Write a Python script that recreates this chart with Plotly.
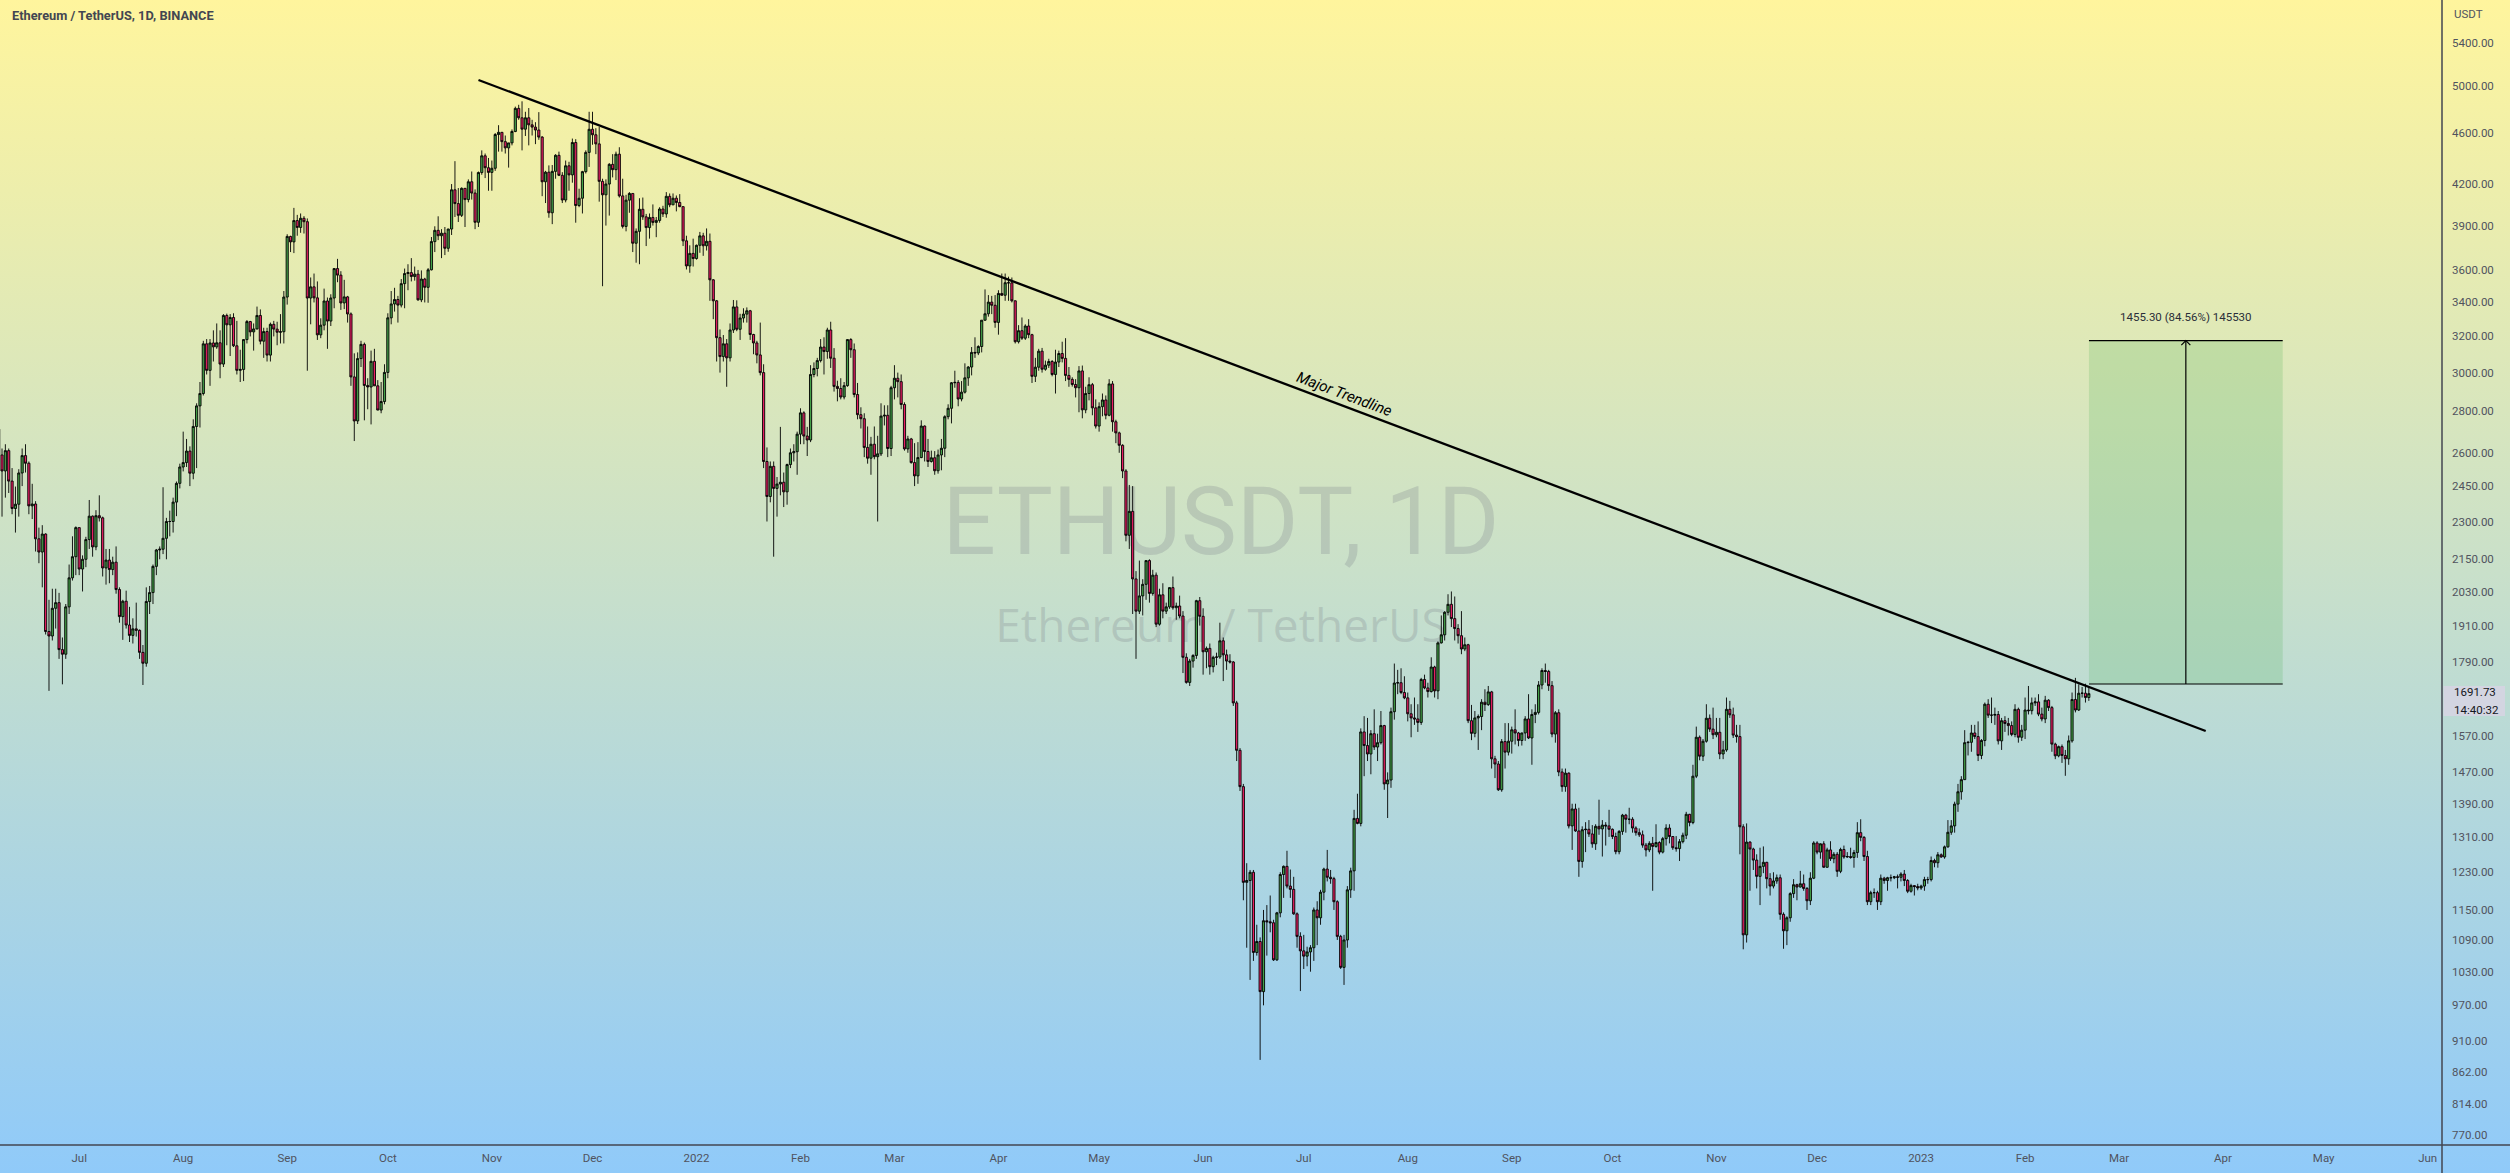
import math
import base64
import pandas as pd
import plotly.graph_objects as go

# ---------------- DATA (ETHUSDT daily) ----------------
START_DATE = "2021-06-07"
FIRST_OPEN = 2712

jun21_c = [2590, 2517, 2610, 2472, 2354, 2372, 2508, 2587, 2552, 2365, 2373, 2230, 2178, 2249, 1890, 1875, 1970, 1990, 1830, 1815, 1975, 2080, 2160, 2275]
jun21_h = [2845, 2620, 2640, 2620, 2530, 2448, 2525, 2620, 2640, 2560, 2460, 2385, 2275, 2285, 2252, 2000, 2040, 2040, 2025, 1870, 1985, 2130, 2240, 2280]
jun21_l = [2580, 2320, 2400, 2420, 2330, 2255, 2320, 2450, 2510, 2330, 2310, 2180, 2135, 2045, 1880, 1700, 1860, 1900, 1800, 1720, 1800, 1950, 2070, 2090]

jul21_c = [2113, 2150, 2227, 2322, 2198, 2324, 2315, 2117, 2147, 2111, 2139, 2037, 1941, 1995, 1912, 1877, 1899, 1894, 1821, 1786, 1994, 2026, 2123, 2186, 2189, 2232, 2300, 2300, 2381, 2462, 2535]
jul21_h = [2275, 2165, 2238, 2390, 2325, 2347, 2410, 2320, 2190, 2190, 2160, 2200, 2045, 2000, 2033, 1975, 1935, 1990, 1897, 1845, 2045, 2050, 2130, 2190, 2200, 2445, 2315, 2345, 2400, 2470, 2550]
jul21_l = [2090, 2030, 2120, 2190, 2160, 2185, 2300, 2085, 2055, 2060, 2090, 2022, 1920, 1862, 1900, 1855, 1850, 1873, 1800, 1718, 1775, 1950, 1985, 2090, 2150, 2170, 2150, 2240, 2255, 2322, 2440]

aug21_c = [2555, 2608, 2507, 2725, 2827, 2890, 3158, 3012, 3163, 3141, 3164, 3046, 3322, 3267, 3310, 3147, 3012, 3017, 3182, 3286, 3226, 3243, 3322, 3173, 3228, 3095, 3270, 3242, 3224, 3227, 3433]
aug21_h = [2700, 2665, 2630, 2760, 2840, 2950, 3175, 3185, 3185, 3235, 3275, 3235, 3330, 3333, 3330, 3335, 3290, 3125, 3185, 3295, 3290, 3275, 3375, 3358, 3250, 3250, 3280, 3290, 3285, 3330, 3470]
aug21_l = [2515, 2535, 2450, 2480, 2530, 2720, 2880, 2990, 2930, 3060, 3130, 2970, 3030, 3150, 3090, 3140, 2990, 2950, 2955, 3160, 3200, 3120, 3240, 3155, 3080, 3060, 3060, 3200, 3150, 3160, 3160]

sep21_c = [3825, 3788, 3935, 3887, 3951, 3927, 3427, 3496, 3428, 3209, 3265, 3409, 3289, 3427, 3612, 3570, 3397, 3434, 3331, 2977, 2752, 3076, 3155, 2932, 2924, 3061, 2930, 2806, 2849, 3001]
sep21_h = [3840, 3830, 4025, 3975, 3985, 3966, 3950, 3555, 3580, 3530, 3305, 3485, 3430, 3450, 3615, 3675, 3595, 3540, 3440, 3340, 3105, 3110, 3175, 3165, 2970, 3120, 3130, 2960, 2950, 3045]
sep21_l = [3387, 3720, 3713, 3830, 3850, 3845, 3010, 3270, 3400, 3180, 3190, 3235, 3130, 3260, 3365, 3525, 3355, 3360, 3280, 2930, 2655, 2737, 3030, 2755, 2810, 2735, 2930, 2805, 2790, 2835]

oct21_c = [3308, 3391, 3418, 3384, 3516, 3580, 3586, 3561, 3576, 3416, 3545, 3493, 3604, 3790, 3867, 3830, 3847, 3745, 3876, 4157, 4056, 3972, 4168, 4085, 4217, 4133, 3923, 4287, 4417, 4324, 4288]
oct21_h = [3335, 3470, 3490, 3440, 3545, 3612, 3640, 3680, 3625, 3603, 3600, 3553, 3615, 3821, 3895, 3965, 3875, 3890, 3878, 4200, 4375, 4170, 4175, 4170, 4235, 4295, 4160, 4295, 4460, 4435, 4400]
oct21_l = [2970, 3270, 3345, 3280, 3370, 3365, 3475, 3530, 3535, 3410, 3402, 3400, 3398, 3600, 3720, 3800, 3680, 3700, 3722, 3835, 3960, 3925, 3960, 3890, 4065, 4085, 3875, 3890, 4270, 4245, 4150]

nov21_c = [4320, 4588, 4606, 4530, 4480, 4520, 4613, 4807, 4727, 4632, 4727, 4668, 4649, 4625, 4567, 4217, 4290, 3990, 4296, 4421, 4266, 4082, 4339, 4269, 4523, 4042, 4095, 4294, 4444, 4631]
nov21_h = [4380, 4600, 4665, 4609, 4580, 4520, 4630, 4822, 4838, 4868, 4778, 4810, 4710, 4690, 4775, 4575, 4300, 4342, 4345, 4430, 4450, 4290, 4380, 4370, 4555, 4550, 4165, 4300, 4460, 4778]
nov21_l = [4150, 4300, 4450, 4450, 4435, 4325, 4500, 4607, 4710, 4460, 4576, 4500, 4580, 4510, 4545, 4110, 4060, 3955, 3910, 4240, 4260, 4060, 4065, 4150, 4210, 3920, 4030, 3985, 4280, 4330]

dec21_c = [4586, 4512, 4220, 4120, 4200, 4350, 4309, 4430, 4112, 3894, 4081, 4130, 3779, 3860, 4015, 3961, 3886, 3957, 3922, 3936, 4017, 3982, 4109, 4047, 4095, 4064, 4034, 3795, 3629, 3711, 3677]
dec21_h = [4778, 4640, 4650, 4240, 4235, 4360, 4430, 4450, 4485, 4240, 4120, 4140, 4131, 3880, 4095, 4100, 3982, 3985, 4050, 3960, 4030, 4040, 4140, 4130, 4130, 4115, 4125, 4035, 3830, 3765, 3810]
dec21_l = [4505, 4430, 4070, 3500, 3900, 3970, 4250, 4230, 4100, 3880, 3860, 3990, 3720, 3650, 3640, 3940, 3760, 3810, 3900, 3820, 3920, 3960, 3955, 4030, 4045, 4000, 4030, 3760, 3606, 3585, 3625]

jan22_c = [3765, 3829, 3762, 3792, 3540, 3410, 3193, 3087, 3158, 3080, 3237, 3373, 3241, 3307, 3330, 3350, 3211, 3163, 3096, 3000, 2560, 2405, 2538, 2440, 2459, 2467, 2425, 2546, 2600, 2605, 2688]
jan22_h = [3770, 3856, 3850, 3880, 3845, 3545, 3415, 3240, 3208, 3185, 3275, 3415, 3413, 3332, 3365, 3370, 3355, 3215, 3175, 3280, 3045, 2625, 2560, 2560, 2490, 2723, 2510, 2550, 2620, 2640, 2700]
jan22_l = [3670, 3715, 3695, 3730, 3410, 3300, 3060, 3000, 3060, 2925, 3060, 3220, 3230, 3180, 3280, 3280, 3180, 3100, 3050, 2985, 2530, 2300, 2380, 2160, 2320, 2410, 2360, 2370, 2530, 2560, 2500]

feb22_c = [2792, 2679, 2660, 2990, 3022, 3065, 3140, 3115, 3237, 3078, 2927, 2916, 2872, 2931, 3182, 3125, 2885, 2783, 2763, 2625, 2575, 2640, 2582, 2595, 2776, 2780, 2620, 2920]
feb22_h = [2815, 2800, 2723, 3040, 3055, 3080, 3185, 3195, 3250, 3285, 3134, 2957, 2970, 2950, 3185, 3190, 3160, 2945, 2820, 2790, 2725, 2675, 2725, 2680, 2840, 2830, 2830, 2930]
feb22_l = [2640, 2640, 2585, 2650, 2975, 2980, 3055, 2990, 3075, 3025, 2900, 2850, 2860, 2860, 2925, 3080, 2870, 2760, 2715, 2580, 2550, 2500, 2570, 2300, 2585, 2730, 2580, 2585]

mar22_c = [2970, 2952, 2834, 2618, 2665, 2555, 2495, 2578, 2727, 2606, 2560, 2577, 2518, 2590, 2621, 2773, 2815, 2946, 2948, 2862, 2897, 2972, 3030, 3110, 3107, 3143, 3294, 3332, 3402, 3383, 3281]
mar22_h = [3040, 3000, 2990, 2845, 2680, 2670, 2645, 2650, 2755, 2730, 2665, 2610, 2608, 2615, 2665, 2780, 2835, 2950, 3010, 2960, 2955, 3050, 3035, 3140, 3195, 3150, 3295, 3480, 3445, 3440, 3445]
mar22_l = [2860, 2870, 2810, 2610, 2600, 2550, 2450, 2460, 2575, 2560, 2535, 2555, 2500, 2505, 2520, 2580, 2760, 2740, 2920, 2825, 2850, 2890, 2930, 2985, 3080, 3095, 3110, 3290, 3315, 3330, 3250]

apr22_c = [3455, 3444, 3522, 3521, 3410, 3170, 3233, 3190, 3260, 3210, 2980, 3029, 3117, 3018, 3040, 3060, 2990, 3057, 3104, 3077, 2985, 2964, 2937, 2920, 3009, 2807, 2890, 2936, 2817, 2727]
apr22_h = [3475, 3580, 3580, 3560, 3555, 3412, 3265, 3310, 3270, 3300, 3215, 3080, 3130, 3135, 3065, 3075, 3068, 3125, 3120, 3170, 3190, 3030, 2975, 2965, 3035, 3038, 2925, 2975, 2945, 2860]
apr22_l = [3210, 3440, 3410, 3410, 3400, 3160, 3160, 3180, 3180, 3190, 2945, 2950, 3010, 3000, 3010, 3025, 2980, 2890, 3030, 3055, 2955, 2925, 2926, 2870, 2795, 2765, 2790, 2855, 2780, 2715]

may22_c = [2823, 2857, 2780, 2940, 2748, 2694, 2635, 2517, 2244, 2342, 2076, 1960, 2014, 2056, 2145, 2023, 2090, 1915, 2018, 1960, 1975, 2044, 1972, 1978, 1943, 1805, 1726, 1793, 1811, 1997, 1942]
may22_h = [2845, 2890, 2880, 2965, 2955, 2758, 2700, 2640, 2525, 2455, 2450, 2105, 2145, 2075, 2145, 2150, 2110, 2100, 2040, 2060, 1990, 2045, 2085, 1990, 2015, 1960, 1818, 1800, 1815, 2000, 2010]
may22_l = [2700, 2775, 2760, 2775, 2700, 2645, 2600, 2485, 2220, 2190, 1950, 1800, 1950, 1945, 2000, 1990, 2015, 1905, 1910, 1935, 1950, 1968, 1965, 1930, 1935, 1755, 1722, 1715, 1772, 1800, 1910]

jun22_c = [1823, 1834, 1775, 1805, 1806, 1859, 1813, 1793, 1790, 1664, 1529, 1433, 1208, 1212, 1230, 1066, 1087, 994, 1128, 1126, 1124, 1052, 1144, 1225, 1243, 1200, 1193, 1142, 1097, 1069]
jun22_h = [1970, 1840, 1850, 1810, 1820, 1920, 1870, 1830, 1815, 1793, 1670, 1535, 1440, 1250, 1235, 1235, 1120, 1095, 1150, 1160, 1180, 1130, 1146, 1230, 1245, 1278, 1236, 1220, 1145, 1105]
jun22_l = [1750, 1770, 1750, 1757, 1780, 1800, 1730, 1765, 1785, 1655, 1500, 1422, 1170, 1075, 1015, 1050, 1060, 880, 970, 1060, 1105, 1050, 1050, 1135, 1175, 1195, 1175, 1140, 1075, 995]

jul22_c = [1059, 1067, 1075, 1150, 1134, 1187, 1237, 1219, 1216, 1167, 1097, 1038, 1090, 1192, 1233, 1354, 1342, 1580, 1542, 1519, 1575, 1538, 1550, 1598, 1440, 1450, 1638, 1724, 1725, 1695, 1679]
jul22_h = [1100, 1077, 1080, 1155, 1168, 1192, 1240, 1280, 1235, 1220, 1170, 1100, 1100, 1200, 1240, 1375, 1415, 1590, 1625, 1620, 1585, 1645, 1575, 1640, 1600, 1470, 1650, 1785, 1765, 1770, 1745]
jul22_l = [1035, 1040, 1030, 1050, 1080, 1120, 1170, 1210, 1205, 1150, 1090, 1035, 1006, 1075, 1175, 1190, 1340, 1335, 1460, 1500, 1465, 1530, 1500, 1545, 1425, 1355, 1430, 1615, 1690, 1690, 1675]

aug22_c = [1632, 1620, 1617, 1607, 1735, 1709, 1698, 1774, 1700, 1852, 1879, 1956, 1984, 1934, 1900, 1876, 1832, 1846, 1612, 1576, 1620, 1624, 1666, 1659, 1697, 1506, 1492, 1425, 1553, 1524, 1554]
aug22_h = [1695, 1660, 1680, 1660, 1740, 1750, 1725, 1805, 1778, 1857, 1945, 1960, 2020, 2030, 2012, 1915, 1960, 1870, 1849, 1658, 1640, 1630, 1675, 1705, 1715, 1700, 1514, 1500, 1560, 1605, 1605]
aug22_l = [1610, 1565, 1600, 1580, 1600, 1705, 1680, 1695, 1680, 1675, 1850, 1860, 1945, 1905, 1860, 1850, 1815, 1825, 1605, 1557, 1565, 1530, 1585, 1640, 1655, 1480, 1455, 1422, 1420, 1480, 1515]

sep22_c = [1586, 1577, 1556, 1577, 1617, 1563, 1630, 1636, 1718, 1763, 1760, 1716, 1574, 1635, 1471, 1433, 1468, 1336, 1377, 1324, 1254, 1327, 1328, 1317, 1294, 1335, 1329, 1338, 1336, 1328]
sep22_h = [1595, 1645, 1580, 1578, 1625, 1690, 1645, 1660, 1730, 1770, 1785, 1765, 1730, 1640, 1645, 1480, 1480, 1470, 1390, 1390, 1380, 1335, 1345, 1350, 1338, 1340, 1400, 1350, 1345, 1375]
sep22_l = [1520, 1545, 1540, 1542, 1555, 1560, 1490, 1605, 1630, 1705, 1725, 1700, 1565, 1550, 1460, 1420, 1420, 1330, 1280, 1322, 1220, 1240, 1275, 1310, 1285, 1280, 1315, 1265, 1290, 1310]

oct22_c = [1311, 1276, 1323, 1362, 1352, 1352, 1331, 1320, 1315, 1291, 1280, 1295, 1288, 1297, 1275, 1306, 1331, 1311, 1285, 1283, 1299, 1314, 1364, 1344, 1460, 1565, 1513, 1554, 1619, 1588, 1572]
oct22_h = [1330, 1320, 1326, 1365, 1365, 1380, 1357, 1335, 1330, 1325, 1296, 1300, 1310, 1340, 1300, 1310, 1340, 1340, 1312, 1312, 1305, 1320, 1370, 1365, 1490, 1595, 1570, 1560, 1660, 1630, 1650]
oct22_l = [1305, 1270, 1270, 1315, 1320, 1340, 1320, 1313, 1310, 1285, 1265, 1275, 1190, 1285, 1270, 1272, 1290, 1295, 1280, 1276, 1255, 1295, 1305, 1335, 1340, 1455, 1502, 1500, 1550, 1580, 1560]

nov22_c = [1579, 1519, 1530, 1645, 1629, 1571, 1567, 1334, 1100, 1298, 1282, 1257, 1221, 1243, 1252, 1216, 1200, 1211, 1218, 1141, 1108, 1134, 1184, 1203, 1198, 1205, 1195, 1169, 1217, 1296]
nov22_h = [1620, 1620, 1555, 1680, 1670, 1650, 1600, 1600, 1340, 1342, 1300, 1285, 1270, 1285, 1288, 1253, 1228, 1230, 1225, 1225, 1145, 1137, 1187, 1215, 1205, 1233, 1225, 1198, 1230, 1300]
nov22_l = [1565, 1505, 1505, 1525, 1620, 1563, 1550, 1270, 1072, 1085, 1190, 1235, 1195, 1160, 1228, 1195, 1180, 1195, 1205, 1130, 1073, 1080, 1126, 1175, 1170, 1197, 1190, 1150, 1160, 1215]

dec22_c = [1275, 1294, 1241, 1280, 1260, 1270, 1232, 1281, 1264, 1265, 1263, 1274, 1320, 1309, 1265, 1167, 1186, 1186, 1167, 1217, 1212, 1218, 1218, 1220, 1219, 1226, 1212, 1189, 1201, 1199, 1196]
dec22_h = [1300, 1295, 1300, 1285, 1300, 1275, 1275, 1285, 1290, 1275, 1285, 1280, 1345, 1352, 1312, 1278, 1190, 1195, 1190, 1225, 1220, 1220, 1225, 1222, 1225, 1230, 1235, 1215, 1205, 1202, 1205]
dec22_l = [1270, 1260, 1240, 1240, 1255, 1250, 1220, 1228, 1260, 1262, 1260, 1240, 1262, 1300, 1255, 1160, 1160, 1175, 1150, 1160, 1205, 1190, 1210, 1215, 1195, 1210, 1200, 1185, 1186, 1180, 1191]

jan23_c = [1200, 1214, 1214, 1256, 1251, 1269, 1264, 1287, 1321, 1336, 1389, 1420, 1451, 1550, 1551, 1577, 1567, 1515, 1556, 1660, 1628, 1628, 1630, 1555, 1612, 1604, 1598, 1573, 1645, 1565, 1585]
jan23_h = [1203, 1220, 1220, 1265, 1260, 1275, 1272, 1290, 1350, 1350, 1395, 1440, 1460, 1585, 1555, 1600, 1600, 1610, 1560, 1665, 1675, 1680, 1650, 1640, 1620, 1625, 1620, 1610, 1660, 1650, 1600]
jan23_l = [1192, 1190, 1205, 1210, 1241, 1240, 1262, 1260, 1285, 1315, 1320, 1370, 1400, 1450, 1515, 1525, 1560, 1500, 1505, 1540, 1620, 1605, 1600, 1545, 1530, 1580, 1570, 1568, 1565, 1550, 1555]

feb23_c = [1643, 1641, 1664, 1667, 1631, 1617, 1672, 1650, 1546, 1514, 1539, 1515, 1506, 1555, 1674, 1643, 1693, 1693, 1680, 1691.73]
feb23_h = [1680, 1715, 1680, 1680, 1690, 1650, 1685, 1675, 1655, 1550, 1542, 1545, 1530, 1570, 1695, 1740, 1720, 1712, 1722, 1712]
feb23_l = [1560, 1630, 1630, 1655, 1625, 1610, 1605, 1640, 1525, 1505, 1510, 1495, 1461, 1490, 1550, 1636, 1640, 1680, 1665, 1670]

MONTHS = [
    ("jun21", jun21_c, jun21_h, jun21_l), ("jul21", jul21_c, jul21_h, jul21_l),
    ("aug21", aug21_c, aug21_h, aug21_l), ("sep21", sep21_c, sep21_h, sep21_l),
    ("oct21", oct21_c, oct21_h, oct21_l), ("nov21", nov21_c, nov21_h, nov21_l),
    ("dec21", dec21_c, dec21_h, dec21_l), ("jan22", jan22_c, jan22_h, jan22_l),
    ("feb22", feb22_c, feb22_h, feb22_l), ("mar22", mar22_c, mar22_h, mar22_l),
    ("apr22", apr22_c, apr22_h, apr22_l), ("may22", may22_c, may22_h, may22_l),
    ("jun22", jun22_c, jun22_h, jun22_l), ("jul22", jul22_c, jul22_h, jul22_l),
    ("aug22", aug22_c, aug22_h, aug22_l), ("sep22", sep22_c, sep22_h, sep22_l),
    ("oct22", oct22_c, oct22_h, oct22_l), ("nov22", nov22_c, nov22_h, nov22_l),
    ("dec22", dec22_c, dec22_h, dec22_l), ("jan23", jan23_c, jan23_h, jan23_l),
    ("feb23", feb23_c, feb23_h, feb23_l),
]

# Trendline anchor points and long-position tool
TREND_DATES = ["2021-10-28 00:30", "2023-03-26 20:00"]
TREND_PRICES = [5057, 1582.6]
BOX_START, BOX_END = "2023-02-20 01:00", "2023-04-18 19:00"
ENTRY_PRICE, TARGET_PRICE = 1721.0, 3176.3
BOX_LABEL = "1455.30 (84.56%) 145530"
LAST_PRICE_TEXT, COUNTDOWN_TEXT = "1691.73", "14:40:32"

Y_TICKS = [5400, 5000, 4600, 4200, 3900, 3600, 3400, 3200, 3000, 2800, 2600, 2450, 2300,
           2150, 2030, 1910, 1790, 1570, 1470, 1390, 1310, 1230, 1150, 1090, 1030, 970,
           910, 862, 814, 770]
X_TICK_START, X_TICK_END = "2021-07-01", "2023-06-01"

# ---------------- build series ----------------
close, high, low = [], [], []
for name, c, h, l in MONTHS:
    if not (len(c) == len(h) == len(l)):
        raise ValueError(f"length mismatch in {name}: {len(c)} {len(h)} {len(l)}")
    close += c
    high += h
    low += l
# Binance daily candles open at the previous close
opens = [FIRST_OPEN] + close[:-1]
high = [max(h, o, c) for h, o, c in zip(high, opens, close)]
low = [min(l, o, c) for l, o, c in zip(low, opens, close)]
dates = pd.date_range(START_DATE, periods=len(close), freq="D")

# ---------------- geometry calibration (pixels of the 2510x1173 canvas) ----------------
W, H = 2510, 1173
PLOT_R, PLOT_B = 2442, 1145
JAN22_PX, PX_PER_DAY = 696.5, 3.355
P_REF, Y_REF, PX_PER_LN = 5400.0, 43.2, 560.4
T0 = pd.Timestamp("2022-01-01")


def px_to_date(px):
    return T0 + pd.Timedelta(days=(px - JAN22_PX) / PX_PER_DAY)


def py_to_price(py):
    return P_REF * math.exp(-(py - Y_REF) / PX_PER_LN)


x_range = [px_to_date(0), px_to_date(PLOT_R)]
y_range = [math.log10(py_to_price(PLOT_B)), math.log10(py_to_price(0))]

FONT = "Roboto"
AXIS_TXT = "#50535E"

fig = go.Figure()

# watermark (base subplot, below the candles)
WM = "rgba(120,123,134,0.25)"
fig.add_trace(go.Scatter(x=[0.5], y=[1 - 530 / PLOT_B], mode="text", text=["ETHUSDT, 1D"],
                         textfont=dict(family=FONT, size=94, color=WM), hoverinfo="skip",
                         xaxis="x", yaxis="y", showlegend=False))
fig.add_trace(go.Scatter(x=[0.5], y=[1 - 630 / PLOT_B], mode="text", text=["Ethereum / TetherUS"],
                         textfont=dict(family="Open Sans", size=46, color=WM), hoverinfo="skip",
                         xaxis="x", yaxis="y", showlegend=False))

# candles
fig.add_trace(go.Candlestick(
    x=dates, open=opens, high=high, low=low, close=close,
    xaxis="x2", yaxis="y2", whiskerwidth=0, hoverinfo="skip", showlegend=False,
    increasing=dict(line=dict(color="#000000", width=0.9), fillcolor="#43A047"),
    decreasing=dict(line=dict(color="#000000", width=0.9), fillcolor="#E91E63"),
))

# long position box
b0, b1 = pd.Timestamp(BOX_START), pd.Timestamp(BOX_END)
bm = b0 + (b1 - b0) / 2
fig.add_trace(go.Scatter(x=[b0, b1, b1, b0, b0],
                         y=[ENTRY_PRICE, ENTRY_PRICE, TARGET_PRICE, TARGET_PRICE, ENTRY_PRICE],
                         fill="toself", fillcolor="rgba(76,175,80,0.2)", mode="lines",
                         line=dict(width=0), hoverinfo="skip", xaxis="x2", yaxis="y2", showlegend=False))
for p in (ENTRY_PRICE, TARGET_PRICE):
    fig.add_trace(go.Scatter(x=[b0, b1], y=[p, p], mode="lines", line=dict(color="#000", width=1.2),
                             hoverinfo="skip", xaxis="x2", yaxis="y2", showlegend=False))
fig.add_trace(go.Scatter(x=[bm, bm], y=[ENTRY_PRICE, TARGET_PRICE], mode="lines",
                         line=dict(color="#000", width=1.2), hoverinfo="skip",
                         xaxis="x2", yaxis="y2", showlegend=False))
dd = pd.Timedelta(days=4.5 / PX_PER_DAY)
yy = TARGET_PRICE * math.exp(-4.5 / PX_PER_LN)
fig.add_trace(go.Scatter(x=[bm - dd, bm, bm + dd], y=[yy, TARGET_PRICE, yy], mode="lines",
                         line=dict(color="#000", width=1.2), hoverinfo="skip",
                         xaxis="x2", yaxis="y2", showlegend=False))

# trendline
fig.add_trace(go.Scatter(x=pd.to_datetime(TREND_DATES), y=TREND_PRICES, mode="lines",
                         line=dict(color="#000", width=2.3), hoverinfo="skip",
                         xaxis="x2", yaxis="y2", showlegend=False))

# gradient background
svg = ("<svg xmlns='http://www.w3.org/2000/svg' width='2510' height='1173' preserveAspectRatio='none'>"
       "<defs><linearGradient id='g' x1='0' y1='0' x2='0' y2='1'>"
       "<stop offset='0' stop-color='#FFF59D'/><stop offset='1' stop-color='#90CAF9'/>"
       "</linearGradient></defs><rect width='2510' height='1173' fill='url(#g)'/></svg>")
src = "data:image/svg+xml;base64," + base64.b64encode(svg.encode()).decode()

month_ticks = pd.date_range(X_TICK_START, X_TICK_END, freq="MS")
month_text = [d.strftime("%Y") if d.month == 1 else d.strftime("%b") for d in month_ticks]

shapes = [
    dict(type="line", xref="paper", yref="paper", x0=0, x1=W / PLOT_R, y0=0, y1=0,
         line=dict(color="#434651", width=1.5)),
    dict(type="line", xref="paper", yref="paper", x0=1, x1=1, y0=-(H - PLOT_B) / PLOT_B, y1=1,
         line=dict(color="#434651", width=1.5)),
    dict(type="rect", xref="paper", yref="paper", x0=1.0006, x1=2505 / PLOT_R,
         y0=1 - 716 / PLOT_B, y1=1 - 686 / PLOT_B, fillcolor="#D3D5E1", line=dict(width=0)),
]

ann = [
    dict(text="Ethereum / TetherUS, 1D, BINANCE", xref="paper", yref="paper",
         x=10 / PLOT_R, y=1 - 16 / PLOT_B, xanchor="left", yanchor="middle", showarrow=False,
         font=dict(family=FONT, size=12.8, color="#434651", weight="bold")),
    dict(text="USDT", xref="paper", yref="paper", x=2452 / PLOT_R, y=1 - 14 / PLOT_B,
         xanchor="left", yanchor="middle", showarrow=False,
         font=dict(family=FONT, size=11.5, color=AXIS_TXT)),
    dict(text=LAST_PRICE_TEXT, xref="paper", yref="paper", x=2452 / PLOT_R, y=1 - 692 / PLOT_B,
         xanchor="left", yanchor="middle", showarrow=False,
         font=dict(family=FONT, size=11.5, color="#131722")),
    dict(text=COUNTDOWN_TEXT, xref="paper", yref="paper", x=2452 / PLOT_R, y=1 - 710 / PLOT_B,
         xanchor="left", yanchor="middle", showarrow=False,
         font=dict(family=FONT, size=11.5, color="#131722")),
    dict(text=BOX_LABEL, xref="x2", yref="y2", x=bm, y=math.log10(TARGET_PRICE), yshift=23.5,
         xanchor="center", yanchor="middle", showarrow=False,
         font=dict(family=FONT, size=11.5, color="#2A2E39")),
    dict(text="<i>Major Trendline</i>", xref="paper", yref="paper", x=1344 / PLOT_R,
         y=1 - 394 / PLOT_B, xanchor="center", yanchor="middle", showarrow=False, textangle=20.67,
         font=dict(family=FONT, size=15, color="#000000")),
]

fig.update_layout(
    width=W, height=H, autosize=False,
    margin=dict(l=0, r=W - PLOT_R, t=0, b=H - PLOT_B, pad=0),
    paper_bgcolor="#FFF59D", plot_bgcolor="rgba(0,0,0,0)",
    showlegend=False, hovermode=False, boxgap=0.08,
    images=[dict(source=src, xref="paper", yref="paper", x=0, y=1, sizex=W / PLOT_R,
                 sizey=H / PLOT_B, xanchor="left", yanchor="top", sizing="stretch", layer="below")],
    xaxis=dict(domain=[0, 1], range=[0, 1], visible=False, fixedrange=True),
    yaxis=dict(domain=[0, 1], range=[0, 1], visible=False, fixedrange=True),
    xaxis2=dict(overlaying="x", anchor="y2", type="date", range=x_range,
                tickvals=list(month_ticks), ticktext=month_text, showgrid=False, zeroline=False,
                showline=False, ticks="", ticklabelstandoff=4,
                tickfont=dict(family=FONT, size=11.5, color=AXIS_TXT),
                rangeslider=dict(visible=False), fixedrange=True),
    yaxis2=dict(overlaying="y", anchor="x2", side="right", type="log", range=y_range,
                tickvals=Y_TICKS, ticktext=[f"{v:.2f}" for v in Y_TICKS], showgrid=False,
                zeroline=False, showline=False, ticks="", ticklabelstandoff=9,
                tickfont=dict(family=FONT, size=11.5, color=AXIS_TXT), fixedrange=True),
    shapes=shapes, annotations=ann,
)

fig.write_html("out.html", config={"displayModeBar": False},
               post_script="document.body.style.margin='0';document.body.style.overflow='hidden';")
